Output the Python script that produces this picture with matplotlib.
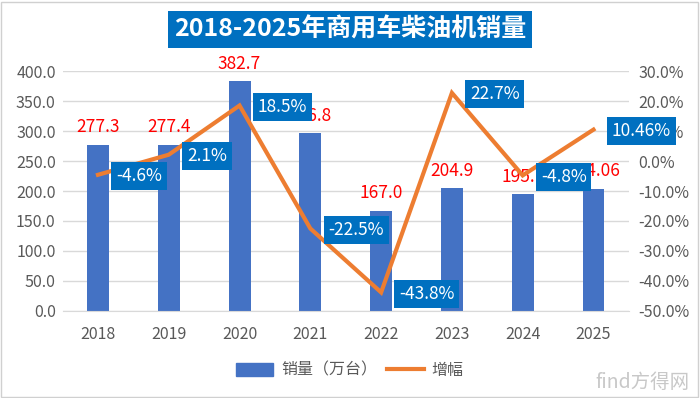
import matplotlib
matplotlib.use("Agg")
import matplotlib.pyplot as plt
from matplotlib.patches import Patch
from matplotlib.lines import Line2D
from matplotlib.ticker import FuncFormatter, MultipleLocator

plt.rcParams['font.family'] = ['Noto Sans CJK SC', 'DejaVu Sans']

# 数据
years = ['2018', '2019', '2020', '2021', '2022', '2023', '2024', '2025']
sales = [277.3, 277.4, 382.7, 296.8, 167.0, 204.9, 195.1, 204.06]   # 万台
growth = [-4.6, 2.1, 18.5, -22.5, -43.8, 22.7, -4.8, 10.46]          # %

bar_c = '#4472C4'
line_c = '#ED7D31'
box_c = '#0070C0'
grey = '#595959'


def fmt(v):
    return f"{v:.1f}" if round(v, 1) == v else f"{v:.2f}"


fig = plt.figure(figsize=(7, 3.98), dpi=100)
ax = fig.add_axes([0.0894, 0.2186, 0.809, 0.603])
ax2 = ax.twinx()

x = list(range(len(years)))
ax.bar(x, sales, width=0.31, color=bar_c, zorder=2)
ax.set_xlim(-0.5, len(years) - 0.5)
ax.set_ylim(0, 400)
ax.yaxis.set_major_locator(MultipleLocator(50))
ax.yaxis.set_major_formatter(FuncFormatter(lambda v, p: f"{v:.1f}"))
ax.grid(axis='y', color='#D9D9D9', lw=1, zorder=0)
ax.set_axisbelow(True)
ax.set_xticks(x)
ax.set_xticklabels(years)

for a in (ax, ax2):
    for s in a.spines.values():
        s.set_visible(False)
    a.tick_params(length=0, colors=grey, labelsize=11.5)
ax.spines['bottom'].set_visible(True)
ax.spines['bottom'].set_color('#D9D9D9')
ax.tick_params(axis='x', pad=11)
ax.tick_params(axis='y', pad=5)

# 销量标签
for i, v in enumerate(sales):
    ax.annotate(fmt(v), (i, v), xytext=(0, 6), textcoords='offset points',
                ha='center', va='bottom', color='#FF0000', fontsize=12.5)

# 增幅折线
ax2.plot(x, growth, color=line_c, lw=3, solid_joinstyle='miter', zorder=3)
ax2.set_ylim(-50, 30)
ax2.yaxis.set_major_locator(MultipleLocator(10))
ax2.yaxis.set_major_formatter(FuncFormatter(lambda v, p: f"{v:.1f}%"))
ax2.tick_params(axis='y', pad=7)

for i, g in enumerate(growth):
    ax2.annotate(fmt(g) + '%', (i, g), xytext=(13, -1), textcoords='offset points',
                 ha='left', va='center', color='white', fontsize=12.5, zorder=5,
                 bbox=dict(boxstyle='square,pad=0.28', fc=box_c, ec='none'))

# 标题
fig.text(0.5, 0.925, '2018-2025年商用车柴油机销量', ha='center', va='center',
         fontsize=18, fontweight='bold', color='white',
         bbox=dict(boxstyle='square,pad=0.25', fc=box_c, ec='none'))

# 图例
handles = [Patch(color=bar_c), Line2D([], [], color=line_c, lw=3)]
fig.legend(handles, ['销量（万台）', '增幅'], loc='center', ncol=2,
           bbox_to_anchor=(0.5, 0.07), frameon=False, fontsize=11.5,
           labelcolor=grey, handlelength=2.3, handleheight=0.9,
           handletextpad=0.5, columnspacing=0.6)

# 水印
fig.text(0.985, 0.04, 'find方得网', ha='right', va='center', fontsize=14,
         color='#C8C8C8', style='italic')

fig.patches.append(plt.Rectangle((0.002, 0.003), 0.995, 0.993, transform=fig.transFigure,
                                 fill=False, ec='#D0D0D0', lw=1))

fig.savefig('out.png', dpi=100)
